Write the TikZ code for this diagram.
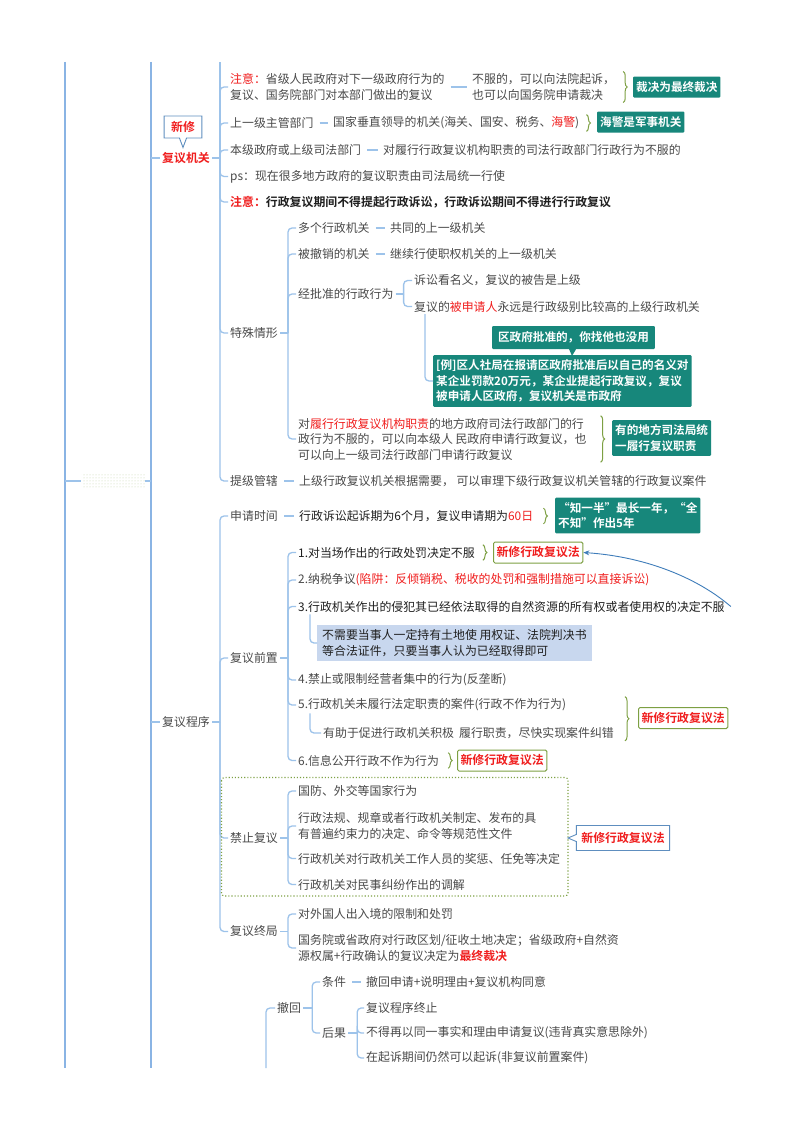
\documentclass[tikz,border=0pt]{standalone}
\usepackage{fontspec}
\setmainfont{Noto Sans CJK SC}[BoldFont={Noto Sans CJK SC Bold}]
\usepackage{tikz}
\usetikzlibrary{arrows.meta,positioning,calc,decorations.pathreplacing,shapes,shapes.callouts,patterns}

\definecolor{ink}{HTML}{4A4A4A}
\definecolor{deep}{HTML}{1F1F1F}
\definecolor{hot}{HTML}{F01E1E}
\definecolor{wire}{HTML}{9DC3EA}
\definecolor{spine}{HTML}{8AB4E4}
\definecolor{tagc}{HTML}{17877B}
\definecolor{leaf}{HTML}{7DA043}
\definecolor{mist}{HTML}{C8D7EE}
\definecolor{frame}{HTML}{5E8EBF}
\definecolor{tiec}{HTML}{3F7DBA}

\begin{document}
\begin{tikzpicture}[x=1pt, y=-1pt,
    txt/.style={anchor=west, inner sep=2pt, text=ink, align=left, font=\fontsize{11.9}{15.5}\selectfont},
    deeptxt/.style={txt, text=deep},
    boldtxt/.style={txt, text=deep, font=\fontsize{11.9}{15.5}\selectfont\bfseries},
    hottxt/.style={txt, text=hot, font=\fontsize{11.9}{15.5}\selectfont\bfseries},
    tag/.style={anchor=west, fill=tagc, text=white, align=left, inner xsep=3pt, inner ysep=4.5pt, minimum height=21pt, rounded corners=1pt, font=\fontsize{11.6}{15.5}\selectfont\bfseries},
    newlaw/.style={anchor=west, draw=leaf, line width=1pt, fill=white, text=hot, inner xsep=3pt, minimum height=21pt, rounded corners=1.5pt, font=\fontsize{11.9}{15.5}\selectfont\bfseries},
    note/.style={rectangle callout, draw=frame, line width=.9pt, fill=white, text=hot, minimum height=22pt, font=\fontsize{11.9}{15.5}\selectfont\bfseries},
    br/.style={draw=wire, line width=1.3pt, rounded corners=4pt},
    joint/.style={draw=wire, line width=1.3pt, shorten <=4pt, shorten >=3pt},
    trunk/.style={draw=spine, line width=2pt},
    brc/.style={decorate, decoration={brace, amplitude=4pt}, draw=leaf, line width=1pt},
    tie/.style={draw=tiec, line width=.9pt, -{Stealth[length=6pt,width=5pt]}}
  ]
  \useasboundingbox (0,0) rectangle (800,1132);
  \fill[white] (0,0) rectangle (800,1132);

  \node[minimum width=63pt, minimum height=15pt, inner sep=0pt, pattern=dots, pattern color=leaf!45] (root) at (113,481) {};
  \coordinate (l0t) at (65,62);
  \coordinate (l0b) at (65,1068);
  \coordinate (l1t) at (151,62);
  \coordinate (l1b) at (151,1068);
  \draw[trunk] (l0t) -- (l0b);
  \draw[trunk] (l1t) -- (l1b);
  \draw[br] (l0t |- root.west) -- (root.west);
  \draw[br] (root.east) -- (l1t |- root.east);

  \node[hottxt] (fj) at (160,158) {复议机关};
  \node[note, callout absolute pointer={(183,147.5)}, inner xsep=7pt] (xx) at (183,127) {新修};
  \draw[br] (l1t |- fj.west) -- (fj.west);

  \node[txt] (a1) at (228,87) {\textcolor{hot}{注意：}省级人民政府对下一级政府行为的\\复议、国务院部门对本部门做出的复议};
  \node[txt] (a1r) at (470,87) {不服的，可以向法院起诉，\\也可以向国务院申请裁决};
  \node[tag] (t1) at (633,87) {裁决为最终裁决};
  \node[txt] (a2) at (228,123) {上一级主管部门};
  \node[txt] (a2r) at (331,123) {国家垂直领导的机关(海关、国安、税务、\textcolor{hot}{海警})};
  \node[tag] (t2) at (597,122) {海警是军事机关};
  \node[txt] (a3) at (228,150) {本级政府或上级司法部门};
  \node[txt] (a3r) at (381,150) {对履行行政复议机构职责的司法行政部门行政行为不服的};
  \node[txt] (a4) at (228,176.5) {ps：现在很多地方政府的复议职责由司法局统一行使};
  \node[boldtxt] (a5) at (228,202) {\textcolor{hot}{注意：}行政复议期间不得提起行政诉讼，行政诉讼期间不得进行行政复议};
  \node[txt] (a6) at (228,333) {特殊情形};
  \node[txt] (a7) at (228,481) {提级管辖};
  \node[txt] (a7r) at (297,481) {上级行政复议机关根据需要， 可以审理下级行政复议机关管辖的行政复议案件};

  \draw[br] (fj.east) -- ++(8,0) coordinate (fjs);
  \draw[br] (fjs) -- (fjs |- l1t);
  \foreach \c in {a1,a2,a3,a4,a5,a6,a7} \draw[br] (fjs) |- (\c.west);
  \foreach \p/\q in {a1/a1r,a2/a2r,a3/a3r,a7/a7r} \draw[joint] (\p.east) -- (\q.west);
  \draw[brc] ([xshift=6pt]a1r.north east) -- ([xshift=6pt]a1r.south east);
  \draw[brc] ([xshift=5pt]a2r.north east) -- ([xshift=5pt]a2r.south east);

  \node[txt] (b1) at (296,228) {多个行政机关};
  \node[txt] (b1r) at (388,228) {共同的上一级机关};
  \node[txt] (b2) at (296,254) {被撤销的机关};
  \node[txt] (b2r) at (388,254) {继续行使职权机关的上一级机关};
  \node[txt] (b3) at (296,294) {经批准的行政行为};
  \node[txt] (b3a) at (412,280.5) {诉讼看名义，复议的被告是上级};
  \node[txt] (b3b) at (412,306.5) {复议的\textcolor{hot}{被申请人}永远是行政级别比较高的上级行政机关};
  \node[tag] (ex) at (433,381) {[例]区人社局在报请区政府批准后以自己的名义对\\某企业罚款20万元，某企业提起行政复议，复议\\被申请人区政府，复议机关是市政府};
  \node[tag, rectangle callout, callout absolute pointer={(572,356)}, anchor=center, inner xsep=6pt, minimum height=23pt] (exn) at (573.5,337.5) {区政府批准的，你找他也没用};
  \node[txt] (b4) at (296,439) {对\textcolor{hot}{履行行政复议机构职责}的地方政府司法行政部门的行\\政行为不服的，可以向本级人 民政府申请行政复议，也\\可以向上一级司法行政部门申请行政复议};
  \node[tag] (t4) at (612,438) {有的地方司法局统\\一履行复议职责};

  \draw[br] (a6.east) -- ++(8,0) coordinate (a6s);
  \foreach \c in {b1,b2,b3,b4} \draw[br] (a6s) |- (\c.west);
  \foreach \p/\q in {b1/b1r,b2/b2r} \draw[joint] (\p.east) -- (\q.west);
  \draw[br] (b3.east) -- ++(8,0) coordinate (b3s);
  \foreach \c in {b3a,b3b} \draw[br] (b3s) |- (\c.west);
  \draw[br] ([xshift=13pt]b3b.south west) |- (ex.west);
  \draw[brc] ([xshift=12pt]b4.north east) -- ([xshift=12pt]b4.south east);

  \node[txt] (cx) at (160,722) {复议程序};
  \draw[br] (l1t |- cx.west) -- (cx.west);
  \node[txt] (c1) at (228,516) {申请时间};
  \node[deeptxt] (c1r) at (297,516) {行政诉讼起诉期为6个月，复议申请期为\textcolor{hot}{60日}};
  \node[tag] (t5) at (555,515.5) {“知一半”最长一年，“全\\不知”作出5年};
  \node[txt] (c2) at (228,658) {复议前置};
  \node[txt] (c3) at (228,838) {禁止复议};
  \node[txt] (c4) at (228,931.5) {复议终局};
  \draw[br] (cx.east) -- ++(8,0) coordinate (cxs);
  \foreach \c in {c1,c2,c3,c4} \draw[br] (cxs) |- (\c.west);
  \draw[joint] (c1.east) -- (c1r.west);
  \draw[brc] ([xshift=8pt]c1r.north east) -- ([xshift=8pt]c1r.south east);

  \node[deeptxt] (d1) at (296,552.5) {1.对当场作出的行政处罚决定不服};
  \node[newlaw] (nb1) at (493,552.5) {新修行政复议法};
  \node[txt] (d2) at (296,580) {2.纳税争议\textcolor{hot}{(陷阱：反倾销税、税收的处罚和强制措施可以直接诉讼)}};
  \node[deeptxt] (d3) at (296,606.5) {3.行政机关作出的侵犯其已经依法取得的自然资源的所有权或者使用权的决定不服};
  \node[anchor=west, fill=mist, text=deep, align=left, inner xsep=5pt, inner ysep=4.5pt, font=\fontsize{11.9}{15.5}\selectfont] (lb) at (317,643) {不需要当事人一定持有土地使 用权证、法院判决书\\等合法证件，只要当事人认为已经取得即可};
  \node[txt] (d4) at (296,680) {4.禁止或限制经营者集中的行为(反垄断)};
  \node[txt] (d5) at (296,705) {5.行政机关未履行法定职责的案件(行政不作为行为)};
  \node[txt] (d5a) at (321,733) {有助于促进行政机关积极\hspace{5pt}履行职责，尽快实现案件纠错};
  \node[newlaw] (nb2) at (638,718) {新修行政复议法};
  \node[txt] (d6) at (296,760.5) {6.信息公开行政不作为行为};
  \node[newlaw] (nb3) at (457,760.5) {新修行政复议法};
  \draw[br] (c2.east) -- ++(8,0) coordinate (c2s);
  \foreach \c in {d1,d2,d3,d4,d5,d6} \draw[br] (c2s) |- (\c.west);
  \draw[br] ([xshift=14pt]d3.south west) |- (lb.west);
  \draw[br] ([xshift=14pt]d5.south west) |- (d5a.west);
  \draw[brc] ([xshift=6pt]d1.north east) -- ([xshift=6pt]d1.south east);
  \draw[brc] ([xshift=9pt]d5a.east |- d5.north) -- ([xshift=9pt]d5a.south east);
  \draw[brc] ([xshift=7pt]d6.north east) -- ([xshift=7pt]d6.south east);
  \draw[tie] ([xshift=4pt]d3.east) .. controls +(-35,-30) and +(60,4) .. (nb1.east);

  \draw[leaf, dotted, line width=1.1pt, rounded corners=3pt] (221.5,777.5) rectangle (568,896);
  \node[txt] (e1) at (296,791) {国防、外交等国家行为};
  \node[txt] (e2) at (296,826) {行政法规、规章或者行政机关制定、发布的具\\有普遍约束力的决定、命令等规范性文件};
  \node[txt] (e3) at (296,858.5) {行政机关对行政机关工作人员的奖惩、任免等决定};
  \node[txt] (e4) at (296,884.5) {行政机关对民事纠纷作出的调解};
  \node[note, callout absolute pointer={(568,838)}, inner xsep=5pt, minimum height=25pt] (nb4) at (623,838) {新修行政复议法};
  \draw[br] (c3.east) -- ++(8,0) coordinate (c3s);
  \foreach \c in {e1,e2,e3,e4} \draw[br] (c3s) |- (\c.west);

  \node[txt] (f1) at (296,914) {对外国人出入境的限制和处罚};
  \node[txt] (f2) at (296,948) {国务院或省政府对行政区划/征收土地决定；省级政府+自然资\\源权属+行政确认的复议决定为\textcolor{hot}{\bfseries 最终裁决}};
  \draw[br] (c4.east) -- ++(8,0) coordinate (c4s);
  \foreach \c in {f1,f2} \draw[br] (c4s) |- (\c.west);

  \coordinate (chb) at (266,1068);
  \node[txt] (ch) at (275,1008) {撤回};
  \draw[br] (chb) |- (ch.west);
  \node[txt] (g1) at (320,982) {条件};
  \node[txt] (g1r) at (364,982) {撤回申请+说明理由+复议机构同意};
  \node[txt] (g2) at (320,1033) {后果};
  \node[txt] (h1) at (364,1008) {复议程序终止};
  \node[txt] (h2) at (364,1033) {不得再以同一事实和理由申请复议(违背真实意思除外)};
  \node[txt] (h3) at (364,1058) {在起诉期间仍然可以起诉(非复议前置案件)};
  \draw[br] (ch.east) -- ++(9,0) coordinate (chs);
  \foreach \c in {g1,g2} \draw[br] (chs) |- (\c.west);
  \draw[joint] (g1.east) -- (g1r.west);
  \draw[br] (g2.east) -- ++(9,0) coordinate (g2s);
  \foreach \c in {h1,h2,h3} \draw[br] (g2s) |- (\c.west);
\end{tikzpicture}
\end{document}
